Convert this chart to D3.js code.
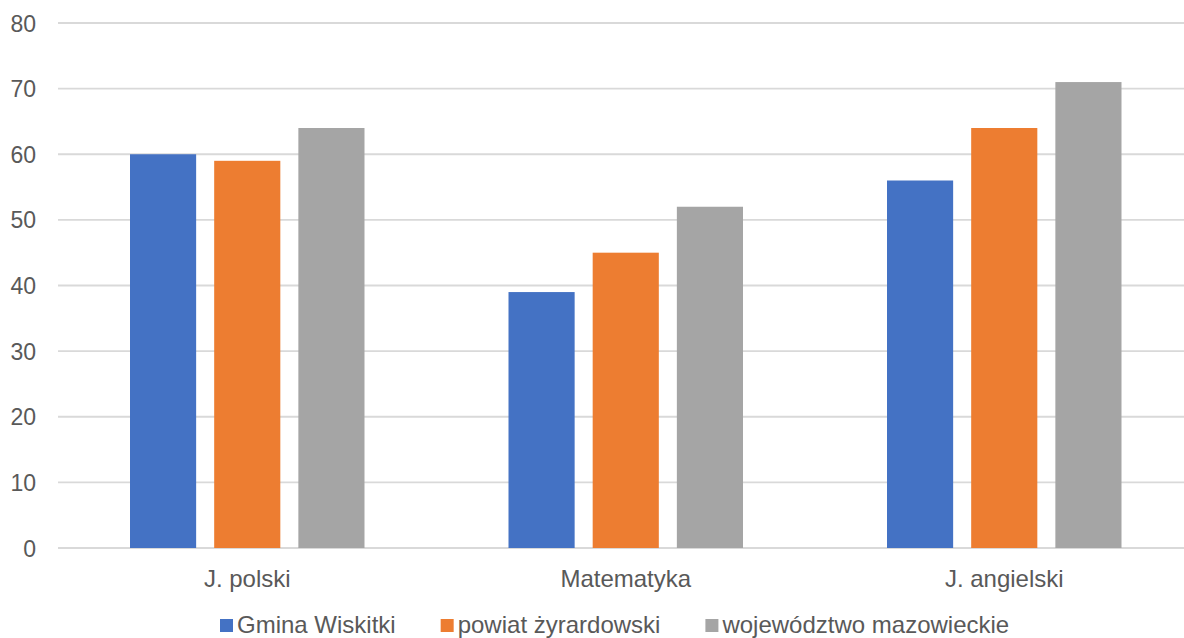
<!DOCTYPE html>
<html>
<head>
<meta charset="utf-8">
<script src="https://cdn.jsdelivr.net/npm/d3@7"></script>
<style>
  html, body { margin: 0; padding: 0; background: #fff; overflow: hidden; }
  svg { display: block; }
  text { font-family: "Liberation Sans", Arial, sans-serif; fill: #595959; }
</style>
</head>
<body>
<svg id="chart" width="1184" height="638"></svg>
<script>
const categories = ["J. polski", "Matematyka", "J. angielski"];
const seriesNames = ["Gmina Wiskitki", "powiat żyrardowski", "województwo mazowieckie"];
const gminaValues = [60, 39, 56];
const powiatValues = [59, 45, 64];
const wojewodztwoValues = [64, 52, 71];
const yTicks = [0, 10, 20, 30, 40, 50, 60, 70, 80];
const colors = ["#4472C4", "#ED7D31", "#A5A5A5"];

const seriesValues = [gminaValues, powiatValues, wojewodztwoValues];

const svg = d3.select("#chart");
const W = 1184, H = 638;
const plotLeft = 58, plotRight = 1193.5, plotTop = 23, plotBottom = 548;

const y = d3.scaleLinear().domain([0, 80]).range([plotBottom, plotTop]);
const x0 = d3.scaleBand().domain(categories).range([plotLeft, plotRight]).paddingInner(0).paddingOuter(0);
const groupPad = 72;
const x1 = d3.scaleBand().domain(seriesNames)
  .range([groupPad, x0.bandwidth() - groupPad])
  .paddingInner(18 / 84).paddingOuter(0);

// gridlines
const grid = svg.append("g");
grid.selectAll("line").data(yTicks).join("line")
  .attr("x1", plotLeft).attr("x2", W)
  .attr("y1", d => y(d)).attr("y2", d => y(d))
  .attr("stroke", "#D9D9D9").attr("stroke-width", 1.8);

// y tick labels
const yAxis = d3.axisLeft(y).tickValues(yTicks).tickSize(0).tickPadding(0);
const ya = svg.append("g").attr("transform", "translate(36,0)").call(yAxis);
ya.select(".domain").remove();
ya.selectAll("text")
  .attr("font-size", 23).attr("fill", "#595959")
  .attr("font-family", "'Liberation Sans', Arial, sans-serif")
  .attr("dy", "0.35em").attr("x", 0);

// bars
const groups = svg.append("g").selectAll("g").data(categories).join("g")
  .attr("transform", d => `translate(${x0(d)},0)`);
groups.selectAll("rect")
  .data((c, ci) => seriesNames.map((s, si) => ({ s, si, v: seriesValues[si][ci] })))
  .join("rect")
  .attr("x", d => x1(d.s))
  .attr("width", x1.bandwidth())
  .attr("y", d => y(d.v))
  .attr("height", d => y(0) - y(d.v))
  .attr("fill", d => colors[d.si]);

// x labels
const xAxis = d3.axisBottom(x0).tickSize(0).tickPadding(0);
const xa = svg.append("g").attr("transform", `translate(0,${plotBottom})`).call(xAxis);
xa.select(".domain").remove();
xa.selectAll("text")
  .attr("font-size", 24).attr("fill", "#595959")
  .attr("font-family", "'Liberation Sans', Arial, sans-serif")
  .attr("y", 38.5).attr("dy", 0);

// legend
const legend = svg.append("g");
let lx = 220;
const gap = 45;
seriesNames.forEach((name, i) => {
  const g = legend.append("g").attr("transform", `translate(${lx},0)`);
  g.append("rect").attr("x", 0).attr("y", 619).attr("width", 13).attr("height", 13).attr("fill", colors[i]);
  const t = g.append("text").attr("x", 17).attr("y", 632.5)
    .attr("font-size", 24).text(name);
  const w = t.node().getComputedTextLength();
  lx += 17 + w + gap;
});
</script>
</body>
</html>
